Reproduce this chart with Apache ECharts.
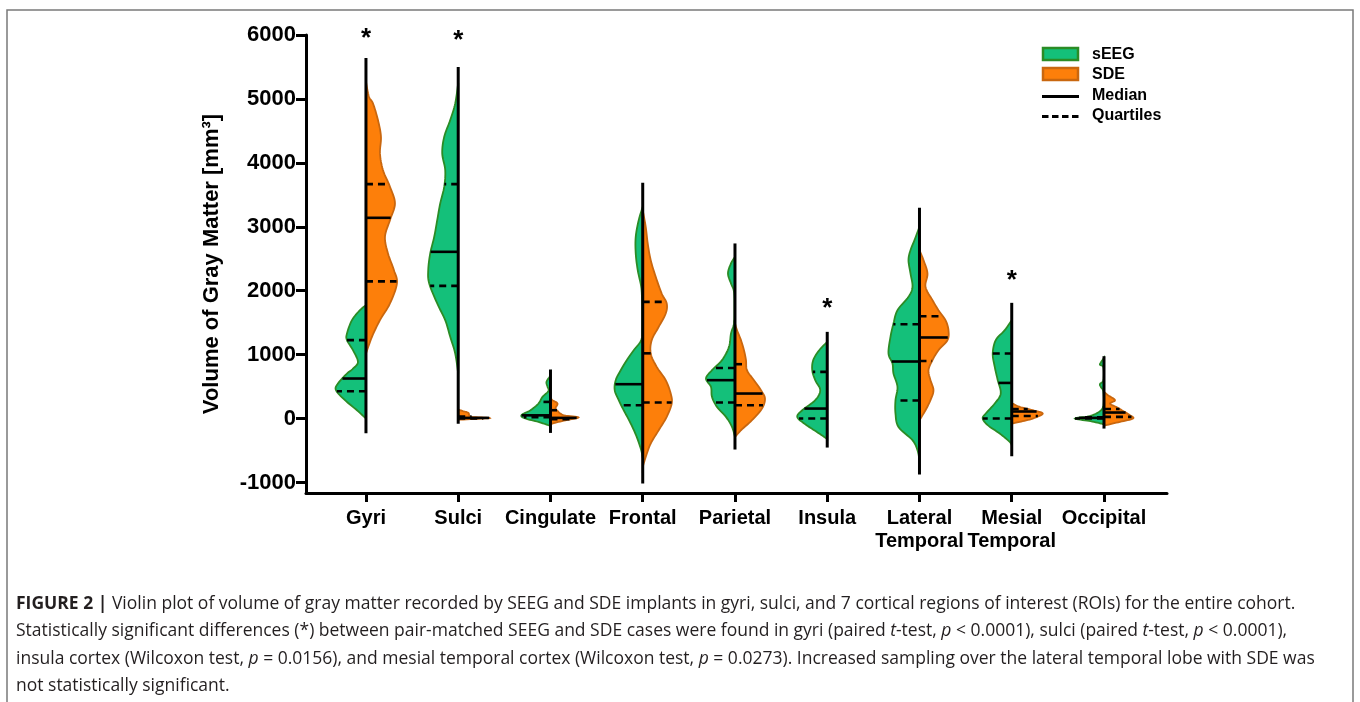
<!DOCTYPE html>
<html>
<head>
<meta charset="utf-8">
<script src="https://cdn.jsdelivr.net/npm/echarts@6/dist/echarts.min.js"></script>
<style>html,body{margin:0;padding:0;background:#fff}#c{width:1360px;height:702px}</style>
</head>
<body>
<div id="c"></div>
<script>
// ---------------- DATA ----------------
const categories = ['Gyri', 'Sulci', 'Cingulate', 'Frontal', 'Parietal', 'Insula', 'Lateral\nTemporal', 'Mesial\nTemporal', 'Occipital'];
const yTicks = [-1000, 0, 1000, 2000, 3000, 4000, 5000, 6000];

// density profiles: [volume, relative density]
const seegDensity = [
  [[0,0],[130,9],[287,21],[443,30],[548,28],[704,19],[780,13],[886,8],[1069,13],[1226,19],[1330,19],[1539,14],[1695,6],[1773,0]],
  [[704,0],[1017,3],[1278,8],[1539,13],[1800,21],[2113,29],[2321,30],[2583,28],[2843,24],[3104,21],[3365,18],[3626,14],[3887,13],[4148,16],[4408,14],[4669,8],[4930,3],[5254,0]],
  [[-120,0],[-105,2],[-53,12],[0,25],[52,29],[130,20],[235,12],[339,8],[430,2],[500,3],[573,4],[651,1],[690,0]],
  [[-620,0],[-496,1.5],[-288,6],[-78,12],[130,19],[287,24],[443,28],[600,27],[756,22],[913,16],[1069,9],[1226,1.5],[1400,0.5],[1700,0.5],[1852,0.7],[2060,1.5],[2321,5],[2583,7],[2843,7],[3104,4],[3312,0]],
  [[-288,0],[-131,3],[26,9],[182,18],[339,23],[495,24],[626,29],[756,23],[913,13],[1121,6],[1330,4],[1487,1],[1700,0.5],[1982,1],[2113,4],[2270,7],[2426,4],[2530,0]],
  [[-322,0],[-288,3],[-183,13],[-78,23],[26,30],[130,25],[287,12],[443,7],[600,12],[756,15],[913,14],[1069,8],[1199,0]],
  [[-653,0],[-496,2],[-339,7],[-131,21],[78,24],[287,24],[495,22],[704,26],[861,27],[1017,31],[1278,29],[1487,26],[1695,22],[1904,11],[2060,7],[2270,9],[2478,11],[2634,9],[2791,5],[2999,0]],
  [[-418,0],[-366,2],[-235,12],[-104,24],[0,29],[78,26],[235,17],[391,11],[600,14],[808,17],[1017,19],[1226,16],[1382,7],[1539,0]],
  [[-95,0],[-78,3],[-37,15],[0,29],[36,15],[104,5],[200,0.6],[420,0.6],[490,3],[540,4],[600,0.6],[800,0.6],[840,4],[880,3],[950,0]]
];
const sdeDensity = [
  [[1017,0],[1278,6],[1539,14],[1800,24],[2113,31],[2321,28],[2583,22],[2843,19],[3104,24],[3365,29],[3626,24],[3887,17],[4148,14],[4408,15],[4669,12],[4930,7],[5034,3],[5269,0]],
  [[-20,0],[0,25],[10,31],[25,14],[50,11],[90,10],[120,4],[140,0]],
  [[-100,0],[-78,2],[-27,15],[16,28],[50,14],[78,10],[120,7],[161,5],[235,7],[287,2],[320,0]],
  [[-757,0],[-601,3],[-391,8],[-183,16],[26,24],[235,29],[391,28],[600,23],[808,14],[1017,8],[1226,9],[1434,16],[1643,23],[1800,24],[1956,19],[2217,13],[2478,8],[2739,5],[2999,3],[3260,0]],
  [[-288,0],[-183,6],[-26,17],[156,27],[313,30],[443,26],[600,19],[756,12],[913,11],[1069,9],[1226,6],[1382,2],[1487,0]],
  [],
  [[-26,0],[130,6],[287,11],[443,14],[600,11],[756,9],[913,13],[1069,19],[1226,28],[1382,29],[1539,26],[1695,19],[1852,13],[2060,6],[2270,8],[2478,4],[2634,0]],
  [[-80,0],[-52,8],[0,21],[78,31],[130,21],[182,8],[235,1],[260,0]],
  [[-120,0],[-104,2],[-52,16],[0,29],[52,26],[119,19],[182,12],[235,6],[287,11],[365,4],[417,0]]
];

const seegMedian = [626, 2608, 50, 537, 600, 156, 892, 557, 10];
const seegQ1     = [427, 2075, 20, 208, 250, 0, 282, 0, 0];
const seegQ3     = [1226, 3667, 260, null, 790, 730, 1476, 1017, 20];
const sdeMedian  = [3140, 10, 10, 1020, 391, null, 1268, 110, 94];
const sdeQ1      = [2145, 0, -10, 250, 208, null, 900, 40, 26];
const sdeQ3      = [3667, 30, 130, 1825, 850, null, 1601, 150, 150];

const rangeMin = [-230, -80, -225, -1017, -485, -454, -877, -590, -157];
const rangeMax = [5640, 5500, 767, 3688, 2739, 1356, 3297, 1810, 975];

const sigMarks = [[0, 6010], [1, 5975], [5, 1775], [7, 2215]];

// ---------------- RENDER ----------------
const GREEN = '#14c07a', GREEN_EDGE = '#2b8c25';
const ORANGE = '#fd7f0a', ORANGE_EDGE = '#c9670f';
const FONT = 'Liberation Sans, Arial, sans-serif';
const CAP_FONT = 'Open Sans, Liberation Sans, sans-serif';
const DENSITY_TO_UNITS = 1 / 92.25;

function catmull(pts, n) {
  const out = [];
  for (let k = 0; k < pts.length - 1; k++) {
    const p0 = pts[Math.max(k - 1, 0)], p1 = pts[k], p2 = pts[k + 1], p3 = pts[Math.min(k + 2, pts.length - 1)];
    for (let s = 0; s < n; s++) {
      const t = s / n, t2 = t * t, t3 = t2 * t;
      const f = (a, b, c, d) => 0.5 * (2 * b + (-a + c) * t + (2 * a - 5 * b + 4 * c - d) * t2 + (-a + 3 * b - 3 * c + d) * t3);
      out.push([f(p0[0], p1[0], p2[0], p3[0]), f(p0[1], p1[1], p2[1], p3[1])]);
    }
  }
  out.push(pts[pts.length - 1]);
  return out;
}
function densAt(profile, v) {
  if (!profile.length) return 0;
  for (let k = 0; k < profile.length - 1; k++) {
    const a = profile[k], b = profile[k + 1];
    if (v >= a[0] && v <= b[0]) return a[1] + (b[1] - a[1]) * (v - a[0]) / (b[0] - a[0]);
  }
  return 0;
}

function renderViolin(params, api) {
  const i = api.value(0);
  const cx = api.coord([i, 0])[0];
  const unitPx = api.size([1, 0])[0];
  const k = unitPx * DENSITY_TO_UNITS;
  const children = [];
  function side(profile, dir, fill, stroke) {
    if (!profile.length) return;
    const pts = profile.map(p => [cx + dir * p[1] * k, api.coord([i, p[0]])[1]]);
    let sm = catmull(pts, 8).map(p => [dir < 0 ? Math.min(p[0], cx) : Math.max(p[0], cx), p[1]]);
    const poly = [[cx, pts[0][1]]].concat(sm, [[cx, pts[pts.length - 1][1]]]);
    children.push({ type: 'polygon', shape: { points: poly }, style: { fill: fill, stroke: stroke, lineWidth: 1.8 } });
  }
  side(seegDensity[i], -1, GREEN, GREEN_EDGE);
  side(sdeDensity[i], 1, ORANGE, ORANGE_EDGE);
  function hline(profile, v, dir, dashed) {
    if (v === null || v === undefined) return;
    const y = api.coord([i, v])[1];
    const w = Math.max(densAt(profile, v) * k, 4);
    children.push({ type: 'line', shape: { x1: cx, y1: y, x2: cx + dir * w, y2: y },
      style: { stroke: '#000', lineWidth: 2.6, lineDash: dashed ? [7, 5] : null } });
  }
  hline(seegDensity[i], seegQ1[i], -1, true);
  hline(seegDensity[i], seegQ3[i], -1, true);
  hline(seegDensity[i], seegMedian[i], -1, false);
  hline(sdeDensity[i], sdeQ1[i], 1, true);
  hline(sdeDensity[i], sdeQ3[i], 1, true);
  hline(sdeDensity[i], sdeMedian[i], 1, false);
  const yTop = api.coord([i, rangeMax[i]])[1], yBot = api.coord([i, rangeMin[i]])[1];
  children.push({ type: 'line', shape: { x1: cx, y1: yTop, x2: cx, y2: yBot }, style: { stroke: '#000', lineWidth: 3 } });
  return { type: 'group', children: children };
}

function renderSig(params, api) {
  const p = api.coord([api.value(0), api.value(1)]);
  return { type: 'text', x: p[0], y: p[1] + 4,
    style: { text: '*', fontSize: 26, fontWeight: 'bold', fontFamily: FONT, fill: '#000', align: 'center', verticalAlign: 'middle' } };
}

const captionLines = [
  '{b|FIGURE 2 |} Violin plot of volume of gray matter recorded by SEEG and SDE implants in gyri, sulci, and 7 cortical regions of interest (ROIs) for the entire cohort.',
  'Statistically significant differences (*) between pair-matched SEEG and SDE cases were found in gyri (paired {i|t}-test, {i|p} < 0.0001), sulci (paired {i|t}-test, {i|p} < 0.0001),',
  'insula cortex (Wilcoxon test, {i|p} = 0.0156), and mesial temporal cortex (Wilcoxon test, {i|p} = 0.0273). Increased sampling over the lateral temporal lobe with SDE was',
  'not statistically significant.'
];
const CAP_SIZE = 17.5;
const capStyle = { fontSize: CAP_SIZE, fontFamily: CAP_FONT, fill: '#231f20' };

const graphics = [
  { type: 'rect', shape: { x: 7, y: 10, width: 1346, height: 760 }, style: { fill: 'none', stroke: '#7a7a7a', lineWidth: 1.5 }, silent: true },
  { type: 'rect', shape: { x: 1043, y: 48, width: 35, height: 12 }, style: { fill: GREEN, stroke: GREEN_EDGE, lineWidth: 2.5 } },
  { type: 'rect', shape: { x: 1043, y: 68, width: 35, height: 12 }, style: { fill: ORANGE, stroke: ORANGE_EDGE, lineWidth: 2.5 } },
  { type: 'line', shape: { x1: 1042, y1: 96.5, x2: 1079, y2: 96.5 }, style: { stroke: '#000', lineWidth: 3 } },
  { type: 'line', shape: { x1: 1042, y1: 116.5, x2: 1079, y2: 116.5 }, style: { stroke: '#000', lineWidth: 3, lineDash: [6.5, 3.5] } },
  { type: 'text', x: 1092, y: 54.5, style: { text: 'sEEG', fontSize: 16, fontWeight: 'bold', fontFamily: FONT, fill: '#000', verticalAlign: 'middle' } },
  { type: 'text', x: 1092, y: 74.5, style: { text: 'SDE', fontSize: 16, fontWeight: 'bold', fontFamily: FONT, fill: '#000', verticalAlign: 'middle' } },
  { type: 'text', x: 1092, y: 95.5, style: { text: 'Median', fontSize: 16, fontWeight: 'bold', fontFamily: FONT, fill: '#000', verticalAlign: 'middle' } },
  { type: 'text', x: 1092, y: 116, style: { text: 'Quartiles', fontSize: 16, fontWeight: 'bold', fontFamily: FONT, fill: '#000', verticalAlign: 'middle' } }
];
captionLines.forEach((t, n) => {
  graphics.push({ type: 'text', x: 16, y: 604 + n * 27.3,
    style: Object.assign({ text: t, verticalAlign: 'middle',
      rich: { b: { fontWeight: 'bold', fontSize: CAP_SIZE, fontFamily: CAP_FONT, fill: '#231f20' },
              i: { fontStyle: 'italic', fontSize: CAP_SIZE, fontFamily: CAP_FONT, fill: '#231f20' } } }, capStyle) });
});

const chart = echarts.init(document.getElementById('c'), null, { renderer: 'canvas' });
const xTicks = categories.map((c, i) => i);
chart.setOption({
  animation: false,
  backgroundColor: '#fff',
  grid: { left: 306, right: 193, top: 35, bottom: 209, containLabel: false },
  xAxis: {
    type: 'value', min: -0.65, max: 8.683,
    axisLine: { onZero: false, lineStyle: { color: '#000', width: 3 } },
    axisTick: { customValues: xTicks, length: 9, lineStyle: { color: '#000', width: 3 } },
    axisLabel: { customValues: xTicks, formatter: v => categories[Math.round(v)], fontSize: 20, fontWeight: 'bold',
      fontFamily: FONT, color: '#000', margin: 14, lineHeight: 23 },
    splitLine: { show: false }
  },
  yAxis: {
    type: 'value', min: -1165, max: 6000,
    axisLine: { onZero: false, lineStyle: { color: '#000', width: 3 } },
    axisTick: { customValues: yTicks, length: 10, lineStyle: { color: '#000', width: 3 } },
    axisLabel: { customValues: yTicks, formatter: v => String(v), fontSize: 22, fontWeight: 'bold', fontFamily: FONT, color: '#000', margin: 10 },
    splitLine: { show: false },
    name: 'Volume of Gray Matter [mm³]', nameLocation: 'middle', nameGap: 83, nameRotate: 90,
    nameTextStyle: { fontSize: 22, fontWeight: 'bold', fontFamily: FONT, color: '#000' }
  },
  series: [
    { type: 'custom', name: 'violins', renderItem: renderViolin, data: categories.map((c, i) => [i, 0]), encode: { x: 0, y: 1 }, clip: false, z: 2 },
    { type: 'custom', name: 'significance', renderItem: renderSig, data: sigMarks, encode: { x: 0, y: 1 }, clip: false, z: 3 }
  ],
  graphic: graphics
});
</script>
</body>
</html>
